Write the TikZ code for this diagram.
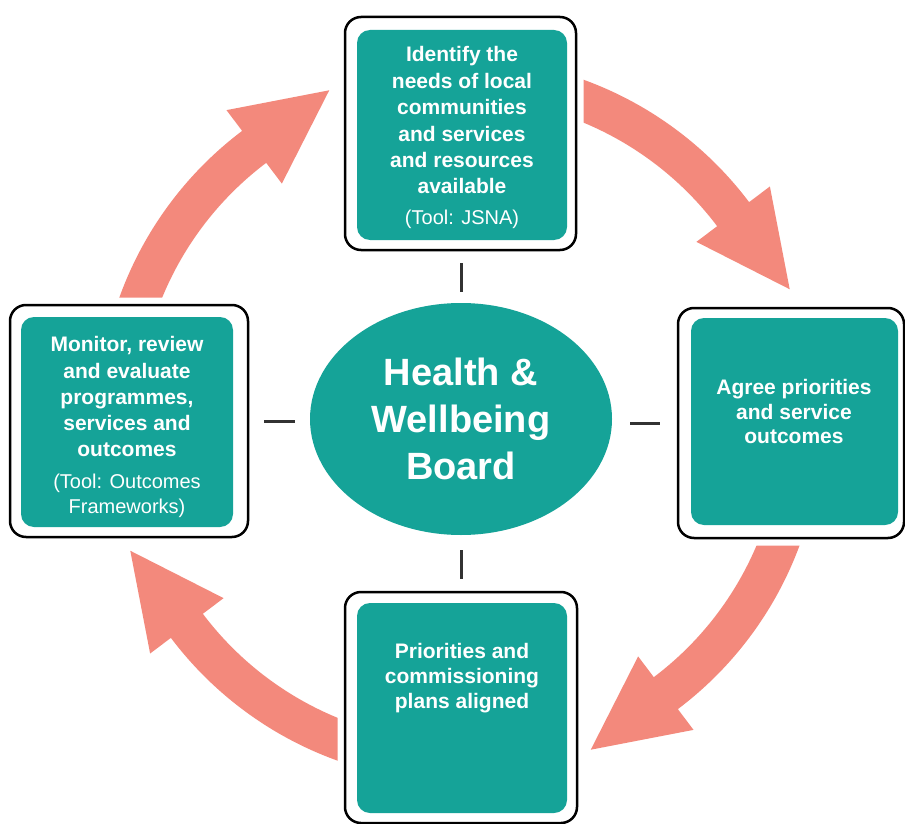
\documentclass[tikz,border=0pt]{standalone}
\usepackage{fontspec}
\setmainfont{Liberation Sans}
\usetikzlibrary{calc,shapes.geometric}
\definecolor{tealbox}{RGB}{21,163,152}
\definecolor{salmon}{RGB}{243,137,124}
\definecolor{tickgray}{RGB}{50,50,50}
\begin{document}
\begin{tikzpicture}[x=1pt,y=1pt,
  outerbox/.style={preaction={draw=white,line width=15pt},draw=black,line width=2.5pt,fill=white,rounded corners=16pt,inner sep=0pt},
  innerbox/.style={fill=tealbox,rounded corners=13pt,inner sep=0pt},
  boxtext/.style={text=white,font=\fontsize{21}{26.4}\selectfont\bfseries,align=center,inner sep=0pt},
  tooltext/.style={text=white,font=\fontsize{20}{25}\selectfont,align=center,inner sep=0pt},
  tick/.style={draw=tickgray,line width=3pt},
  flow/.style={fill=salmon}]
\useasboundingbox (0,0) rectangle (905,-824);
\fill[white] (0,0) rectangle (905,-824);
\coordinate (c) at (460,-420);
% curved arrows
\foreach \s/\b in {168/127, 78/37, -12/-53, -102/-143}{
  \fill[flow] ($(c)+(\s:362)$) arc[start angle=\s, end angle=\b, radius=362]
    -- ($(c)+(\b:388)$) -- ($(c)+(\b:342)+(\b-90:94)$) -- ($(c)+(\b:296)$)
    -- ($(c)+(\b:322)$) arc[start angle=\b, end angle=\s, radius=322] -- cycle;
}
% outer boxes
\node[outerbox,minimum width=231pt,minimum height=233pt] (topO) at (460.5,-133.5) {};
\node[outerbox,minimum width=226pt,minimum height=230pt] (rightO) at (791,-423) {};
\node[outerbox,minimum width=238pt,minimum height=232pt] (leftO) at (129,-421) {};
\node[outerbox,minimum width=232pt,minimum height=231pt] (botO) at (461,-707.5) {};
% inner boxes
\node[innerbox,minimum width=210pt,minimum height=210pt] (topI) at (462,-135) {};
\node[innerbox,minimum width=207pt,minimum height=207pt] (rightI) at (794.5,-421.5) {};
\node[innerbox,minimum width=212pt,minimum height=210pt] (leftI) at (127,-422) {};
\node[innerbox,minimum width=210pt,minimum height=210pt] (botI) at (462,-708) {};
% texts
\node[boxtext] (topT) at (462,-120.3) {Identify the\\needs of local\\communities\\and services\\and resources\\available};
\node[tooltext] (topTool) at (462,-219) {(Tool: JSNA)};
\node[boxtext,font=\fontsize{21}{24.5}\selectfont\bfseries] (rightT) at (794,-411.9) {Agree priorities\\and service\\outcomes};
\node[boxtext,font=\fontsize{21}{26.25}\selectfont\bfseries] (leftT) at (127,-396.9) {Monitor, review\\and evaluate\\programmes,\\services and\\outcomes};
\node[tooltext] (leftTool) at (127,-496) {(Tool: Outcomes\\Frameworks)};
\node[boxtext,font=\fontsize{21}{25}\selectfont\bfseries] (botT) at (462,-678.5) {Priorities and\\commissioning\\plans aligned};
% centre ellipse
\node[ellipse,fill=tealbox,minimum width=302pt,minimum height=232pt,inner sep=0pt,text=white,align=center,font=\fontsize{38}{47}\selectfont\bfseries] (hwb) at (461,-419) {Health \&\\Wellbeing\\Board};
% ticks
\draw[tick,shorten <=12pt,shorten >=11pt] (topO.south -| hwb.north) -- (hwb.north);
\draw[tick,shorten <=12pt,shorten >=15pt] (botO.north -| hwb.south) -- (hwb.south);
\draw[tick,shorten <=15pt,shorten >=15pt] (leftO.east) -- (leftO.east -| hwb.west);
\draw[tick,shorten <=17pt,shorten >=18pt] (rightO.west) -- (rightO.west -| hwb.east);
\end{tikzpicture}
\end{document}
